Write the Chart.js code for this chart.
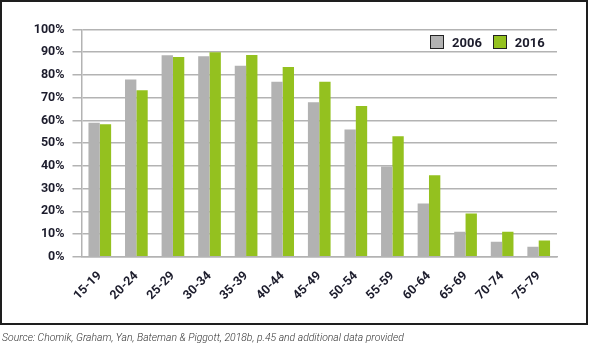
<!DOCTYPE html>
<html><head><meta charset="utf-8">
<script src="https://cdn.jsdelivr.net/npm/chart.js@4/dist/chart.umd.min.js"></script>
<style>
html,body{margin:0;padding:0;background:#fff;width:594px;height:348px;overflow:hidden;}
#c{position:absolute;left:0;top:0;}
#frame{position:absolute;left:0;top:0;width:588px;height:325px;border:2px solid #1e1e1e;box-sizing:border-box;pointer-events:none;}
#legend{position:absolute;left:430px;top:35px;height:14px;display:flex;align-items:center;font-family:Roboto,sans-serif;font-weight:700;font-size:13px;color:#1c1c2c;}
#legend .item{display:flex;align-items:center;margin-right:11px;}
#legend .box{width:14px;height:14px;box-sizing:border-box;border:1.5px solid #222;margin-right:8px;}
#source{position:absolute;left:2px;top:330px;font-family:Roboto,sans-serif;font-style:italic;font-weight:300;font-size:11.5px;color:#333;white-space:nowrap;transform-origin:0 0;transform:scaleX(0.905);}
</style></head>
<body>
<canvas id="c" width="594" height="326"></canvas>
<div id="frame"></div>
<div id="legend"></div>
<div id="source">Source: Chomik, Graham, Yan, Bateman &amp; Piggott, 2018b, p.45 and additional data provided</div>
<script>
const categories = ['15-19','20-24','25-29','30-34','35-39','40-44','45-49','50-54','55-59','60-64','65-69','70-74','75-79'];
const values2006 = [59, 78, 88.7, 88.2, 84, 77, 68, 56, 39.7, 23.4, 11, 6.6, 4.4];
const values2016 = [58.3, 73.3, 87.9, 90, 88.8, 83.5, 77, 66.3, 53, 35.8, 19, 11, 7.1];
const seriesNames = ['2006','2016'];
const seriesColors = ['#b2b2b2','#94c11f'];
const yTicks = [0,10,20,30,40,50,60,70,80,90,100];

const tickFont = {family:'Roboto', weight:'bold', size:12.5};
const textColor = '#1c1c2c';
const gridColor = '#b3b3b3';

new Chart(document.getElementById('c'), {
  type:'bar',
  data:{
    labels:categories,
    datasets:[
      {label:seriesNames[0], data:values2006, backgroundColor:seriesColors[0], categoryPercentage:0.62, barPercentage:1},
      {label:seriesNames[1], data:values2016, backgroundColor:seriesColors[1], categoryPercentage:0.62, barPercentage:1}
    ]
  },
  options:{
    responsive:false, animation:false,
    layout:{padding:{left:0,right:37,top:29.5,bottom:0}},
    plugins:{legend:{display:false}, tooltip:{enabled:false}},
    scales:{
      x:{
        grid:{display:false},
        border:{display:true,color:gridColor,width:1.5},
        ticks:{maxRotation:45,minRotation:45,font:tickFont,color:textColor,padding:4},
        afterFit:s=>{s.height = 326-256.7;}
      },
      y:{
        min:0,max:100,
        afterBuildTicks:s=>{s.ticks = yTicks.map(v=>({value:v}));},
        ticks:{callback:v=>v+'%',padding:8,font:tickFont,color:textColor},
        grid:{color:gridColor,lineWidth:1.5,tickLength:9,drawTicks:true},
        border:{color:gridColor,width:1.5},
        afterFit:s=>{s.width = 81.5;}
      }
    }
  }
});

const leg = document.getElementById('legend');
seriesNames.forEach((n,i)=>{
  const it = document.createElement('div'); it.className='item';
  const b = document.createElement('div'); b.className='box'; b.style.background = seriesColors[i];
  const t = document.createElement('span'); t.textContent = n;
  it.appendChild(b); it.appendChild(t); leg.appendChild(it);
});
</script>
</body></html>
